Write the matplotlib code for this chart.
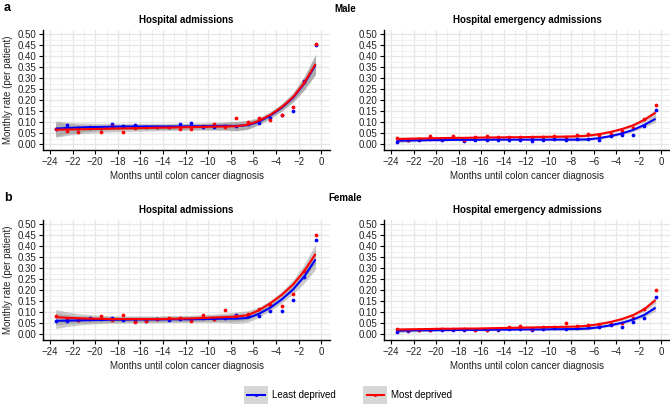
import numpy as np
import matplotlib
matplotlib.use("Agg")
import matplotlib.pyplot as plt
from matplotlib.lines import Line2D
from matplotlib.patches import Rectangle

plt.rcParams['font.family'] = ['Liberation Sans', 'DejaVu Sans']

months = [-23.5, -22.5, -21.5, -20.5, -19.5, -18.5, -17.5, -16.5, -15.5, -14.5, -13.5, -12.5,
          -11.5, -10.5, -9.5, -8.5, -7.5, -6.5, -5.5, -4.5, -3.5, -2.5, -1.5, -0.5]

groups = ["Least deprived", "Most deprived"]
panel_titles = ["Hospital admissions", "Hospital emergency admissions"]
sex_labels = ["Male", "Female"]
panel_letters = ["a", "b"]
x_ticks = list(range(-24, 1, 2))
y_ticks = [0.00, 0.05, 0.10, 0.15, 0.20, 0.25, 0.30, 0.35, 0.40, 0.45, 0.50]

# ---- Male, hospital admissions ----
male_ha_least = [0.067, 0.085, 0.073, 0.075, 0.073, 0.091, 0.082, 0.085, 0.078, 0.079, 0.079, 0.090,
                 0.096, 0.076, 0.079, 0.082, 0.084, 0.091, 0.096, 0.117, 0.131, 0.149, 0.286, 0.450]
male_ha_most = [0.070, 0.058, 0.056, 0.079, 0.055, 0.082, 0.055, 0.072, 0.078, 0.078, 0.077, 0.067,
                0.068, 0.080, 0.090, 0.076, 0.117, 0.099, 0.117, 0.111, 0.131, 0.170, 0.281, 0.454]
male_ha_least_fit = [0.070, 0.073, 0.075, 0.077, 0.078, 0.079, 0.080, 0.080, 0.080, 0.080, 0.080, 0.080,
                     0.081, 0.081, 0.082, 0.083, 0.082, 0.086, 0.102, 0.130, 0.165, 0.210, 0.275, 0.360]
male_ha_most_fit = [0.065, 0.066, 0.067, 0.068, 0.069, 0.070, 0.071, 0.072, 0.073, 0.074, 0.075, 0.076,
                    0.077, 0.078, 0.079, 0.080, 0.081, 0.088, 0.106, 0.133, 0.168, 0.213, 0.278, 0.365]
male_ha_band = [0.035, 0.027, 0.021, 0.018, 0.016, 0.015, 0.014, 0.014, 0.014, 0.014, 0.014, 0.014,
                0.014, 0.015, 0.016, 0.018, 0.021, 0.020, 0.015, 0.014, 0.016, 0.020, 0.030, 0.045]

# ---- Male, hospital emergency admissions ----
male_em_least = [0.010, 0.020, 0.018, 0.022, 0.020, 0.027, 0.014, 0.020, 0.020, 0.020, 0.020, 0.020,
                 0.015, 0.020, 0.025, 0.020, 0.023, 0.022, 0.020, 0.037, 0.042, 0.042, 0.080, 0.157]
male_em_most = [0.027, 0.018, 0.025, 0.036, 0.022, 0.038, 0.020, 0.030, 0.035, 0.033, 0.030, 0.030,
                0.030, 0.033, 0.036, 0.030, 0.043, 0.044, 0.040, 0.047, 0.060, 0.073, 0.115, 0.177]
male_em_least_fit = [0.015, 0.016, 0.017, 0.018, 0.018, 0.019, 0.019, 0.019, 0.020, 0.020, 0.020, 0.020,
                     0.020, 0.020, 0.020, 0.020, 0.020, 0.021, 0.027, 0.036, 0.048, 0.064, 0.087, 0.115]
male_em_most_fit = [0.022, 0.024, 0.025, 0.026, 0.027, 0.028, 0.028, 0.029, 0.030, 0.030, 0.031, 0.031,
                    0.032, 0.033, 0.033, 0.034, 0.035, 0.038, 0.045, 0.055, 0.068, 0.085, 0.110, 0.143]
male_em_band = [0.010, 0.008, 0.006, 0.005, 0.005, 0.004, 0.004, 0.004, 0.004, 0.004, 0.004, 0.004,
                0.004, 0.004, 0.005, 0.005, 0.006, 0.006, 0.005, 0.005, 0.006, 0.007, 0.010, 0.015]

# ---- Female, hospital admissions ----
female_ha_least = [0.058, 0.060, 0.065, 0.072, 0.067, 0.073, 0.065, 0.060, 0.060, 0.070, 0.065, 0.070,
                   0.070, 0.072, 0.070, 0.075, 0.085, 0.080, 0.080, 0.105, 0.105, 0.153, 0.260, 0.430]
female_ha_most = [0.080, 0.070, 0.063, 0.070, 0.080, 0.063, 0.085, 0.057, 0.060, 0.070, 0.075, 0.073,
                  0.060, 0.085, 0.070, 0.108, 0.082, 0.090, 0.115, 0.130, 0.127, 0.182, 0.285, 0.450]
female_ha_least_fit = [0.060, 0.061, 0.062, 0.063, 0.064, 0.065, 0.065, 0.066, 0.066, 0.066, 0.067, 0.067,
                       0.067, 0.068, 0.069, 0.070, 0.070, 0.073, 0.092, 0.120, 0.157, 0.202, 0.262, 0.340]
female_ha_most_fit = [0.077, 0.074, 0.072, 0.070, 0.069, 0.068, 0.068, 0.068, 0.068, 0.068, 0.069, 0.070,
                      0.071, 0.073, 0.075, 0.077, 0.079, 0.086, 0.108, 0.140, 0.178, 0.225, 0.287, 0.365]
female_ha_band = [0.035, 0.027, 0.021, 0.018, 0.016, 0.015, 0.014, 0.014, 0.014, 0.014, 0.014, 0.014,
                  0.014, 0.015, 0.016, 0.018, 0.021, 0.020, 0.015, 0.014, 0.016, 0.020, 0.030, 0.045]

# ---- Female, hospital emergency admissions ----
female_em_least = [0.010, 0.015, 0.016, 0.018, 0.019, 0.020, 0.020, 0.020, 0.020, 0.018, 0.022, 0.025,
                   0.018, 0.022, 0.028, 0.025, 0.028, 0.030, 0.030, 0.040, 0.033, 0.057, 0.075, 0.168]
female_em_most = [0.025, 0.017, 0.020, 0.020, 0.022, 0.025, 0.025, 0.017, 0.020, 0.022, 0.030, 0.035,
                  0.025, 0.033, 0.033, 0.050, 0.035, 0.040, 0.045, 0.045, 0.050, 0.072, 0.113, 0.200]
female_em_least_fit = [0.015, 0.016, 0.017, 0.017, 0.018, 0.018, 0.019, 0.019, 0.019, 0.020, 0.020, 0.021,
                       0.021, 0.021, 0.022, 0.022, 0.023, 0.025, 0.031, 0.040, 0.051, 0.066, 0.087, 0.120]
female_em_most_fit = [0.020, 0.021, 0.022, 0.023, 0.024, 0.024, 0.025, 0.025, 0.026, 0.027, 0.028, 0.029,
                      0.030, 0.031, 0.032, 0.033, 0.034, 0.038, 0.045, 0.055, 0.068, 0.086, 0.113, 0.155]
female_em_band = [0.010, 0.008, 0.006, 0.005, 0.005, 0.004, 0.004, 0.004, 0.004, 0.004, 0.004, 0.004,
                  0.004, 0.004, 0.005, 0.005, 0.006, 0.006, 0.005, 0.005, 0.006, 0.007, 0.010, 0.015]

panels = [
    [(male_ha_least, male_ha_most, male_ha_least_fit, male_ha_most_fit, male_ha_band),
     (male_em_least, male_em_most, male_em_least_fit, male_em_most_fit, male_em_band)],
    [(female_ha_least, female_ha_most, female_ha_least_fit, female_ha_most_fit, female_ha_band),
     (female_em_least, female_em_most, female_em_least_fit, female_em_most_fit, female_em_band)],
]

colors = ["#0000ff", "#ff0000"]

fig = plt.figure(figsize=(6.7, 4.08), dpi=100)
W, H = 670.0, 408.0

def ax_rect(x0, x1, y0, y1):
    return [x0 / W, 1 - y1 / H, (x1 - x0) / W, (y1 - y0) / H]

rows_y = [(30, 150), (220, 340)]
cols_x = [(43, 330), (384, 670)]

x = np.array(months)
for r in range(2):
    for c in range(2):
        ax = fig.add_axes(ax_rect(cols_x[c][0], cols_x[c][1], rows_y[r][0], rows_y[r][1]))
        least, most, least_fit, most_fit, band = panels[r][c]
        band = np.array(band)
        for fit in (least_fit, most_fit):
            fit = np.array(fit)
            ax.fill_between(x, fit - band, fit + band, color="#8c8c8c", alpha=0.45,
                            linewidth=0, zorder=2)
        for vals, fit, col in ((least, least_fit, colors[0]), (most, most_fit, colors[1])):
            ax.plot(x, vals, linestyle="none", marker="o", markersize=2.7, color=col,
                    markeredgewidth=0, zorder=3)
            ax.plot(x, fit, color=col, linewidth=1.5, zorder=4, solid_capstyle="butt")
        ax.set_xlim(-24.62, 0.78)
        ax.set_ylim(-0.0273, 0.5196)
        ax.set_xticks(x_ticks)
        ax.set_xticklabels(["\u2212%d" % abs(t) if t < 0 else "0" for t in x_ticks])
        ax.set_yticks(y_ticks)
        ax.set_yticklabels(["%.2f" % v for v in y_ticks])
        ax.set_xticks(np.arange(-24, 1, 1), minor=True)
        ax.set_yticks(np.arange(0, 0.51, 0.025), minor=True)
        ax.grid(True, which="major", color="#e6e6e6", linewidth=0.9, zorder=0)
        ax.grid(True, which="minor", color="#f0f0f0", linewidth=0.7, zorder=0)
        ax.set_axisbelow(True)
        ax.tick_params(which="minor", length=0)
        ax.tick_params(which="major", length=3, width=0.8, color="black",
                       labelsize=7, labelcolor="#222222", pad=2)
        for s in ("top", "right"):
            ax.spines[s].set_visible(False)
        for s in ("left", "bottom"):
            ax.spines[s].set_linewidth(1.0)
            ax.spines[s].set_color("black")
        ax.set_xlabel("Months until colon cancer diagnosis", fontsize=7, color="#222222", labelpad=3)
        if c == 0:
            ax.set_ylabel("Monthly rate (per patient)", fontsize=7, color="#222222", labelpad=3)
        ax.set_title(panel_titles[c], fontsize=7, fontweight="bold", pad=5)

fig.text(4 / W, 1 - 8 / H, panel_letters[0], fontsize=9, fontweight="bold", va="center", ha="left")
fig.text(4 / W, 1 - 198 / H, panel_letters[1], fontsize=9, fontweight="bold", va="center", ha="left")
fig.text(345 / W, 1 - 9 / H, sex_labels[0], fontsize=7, fontweight="bold", va="center", ha="center")
fig.text(345 / W, 1 - 198 / H, sex_labels[1], fontsize=7, fontweight="bold", va="center", ha="center")


class KeyHandler:
    """Grey square key with a coloured line inset, ggplot style."""
    def legend_artist(self, legend, orig_handle, fontsize, handlebox):
        x0, y0 = handlebox.xdescent, handlebox.ydescent
        w, h = handlebox.width, handlebox.height
        rect = Rectangle((-x0, -y0), w, h, facecolor="#d6d6d6", edgecolor="none",
                         transform=handlebox.get_transform())
        inset = 0.13 * w
        ln = Line2D([-x0 + inset, -x0 + w - inset], [-y0 + h / 2, -y0 + h / 2],
                    color=orig_handle.get_color(), linewidth=1.5,
                    transform=handlebox.get_transform())
        dot = Line2D([-x0 + w / 2], [-y0 + h / 2], color=orig_handle.get_color(),
                     marker="o", markersize=2.2, markeredgewidth=0, linestyle="none",
                     transform=handlebox.get_transform())
        handlebox.add_artist(rect)
        handlebox.add_artist(ln)
        handlebox.add_artist(dot)
        return rect


handles = [Line2D([], [], color=col) for col in colors]
fig.legend(handles, groups, handler_map={Line2D: KeyHandler()},
           loc="center", bbox_to_anchor=(348 / W, 1 - 395 / H), ncol=2, frameon=False,
           fontsize=7, handlelength=2.45, handleheight=2.6, columnspacing=2.9,
           handletextpad=0.4, borderaxespad=0, borderpad=0)

fig.savefig("out.png", dpi=100)
